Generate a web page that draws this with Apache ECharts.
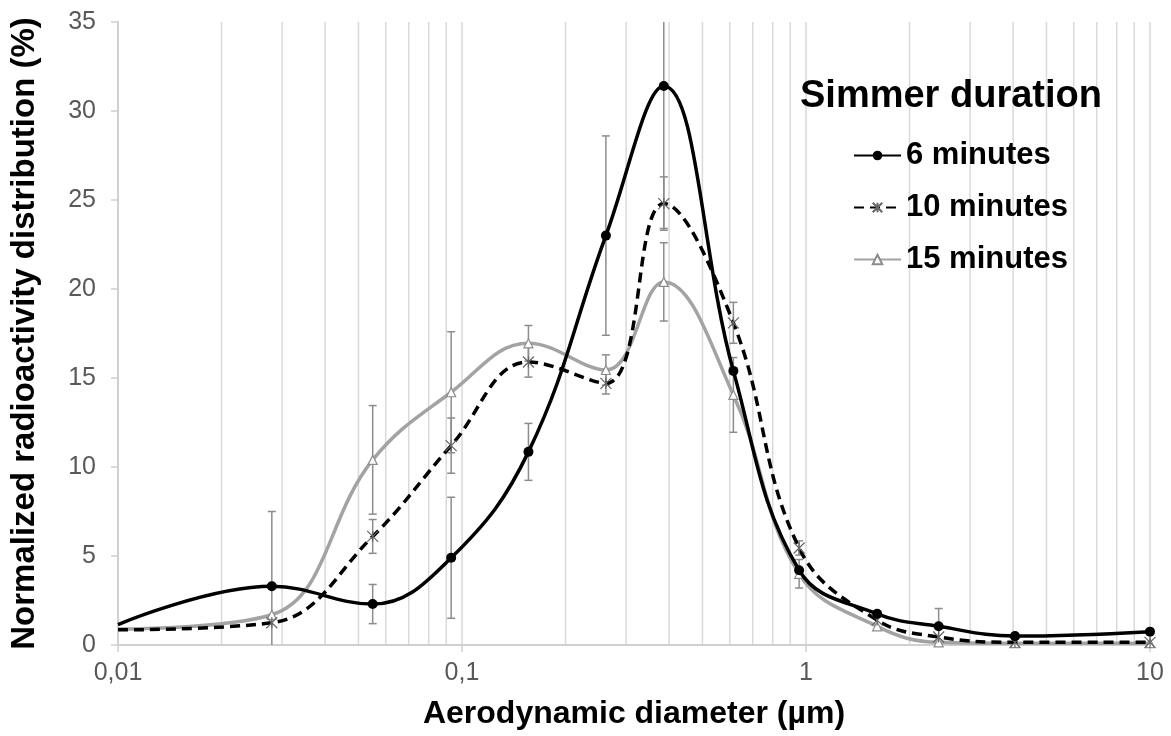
<!DOCTYPE html>
<html><head><meta charset="utf-8">
<script src="https://cdn.jsdelivr.net/npm/echarts@6/dist/echarts.min.js"></script>
<style>html,body{margin:0;padding:0;background:#fff}#c{width:1171px;height:736px}</style>
</head><body><div id="c"></div>
<script>
// Aerodynamic diameter (µm) of each stage
const diameters = [0.01, 0.028, 0.055, 0.093, 0.156, 0.262, 0.386, 0.615, 0.955, 1.61, 2.43, 4.05, 10];
// Normalized radioactivity distribution (%)
const sixMinutes     = [1.15, 3.3, 2.3, 4.9, 10.85, 23.0, 31.4, 15.4, 4.2, 1.75, 1.05, 0.5, 0.75];
const tenMinutes     = [0.85, 1.25, 6.1, 11.2, 15.9, 14.7, 24.8, 18.1, 5.45, 1.4, 0.45, 0.15, 0.15];
const fifteenMinutes = [0.9, 1.7, 10.4, 14.2, 16.95, 15.45, 20.4, 14.05, 4.0, 1.05, 0.15, 0.1, 0.1];
// error bar half widths
const sixMinutesErr     = [0, 4.2, 1.1, 3.4, 1.6, 5.6, 8.0, 0, 0, 0, 1.0, 0, 0];
const tenMinutesErr     = [0, 0, 0.95, 1.55, 0.85, 0.6, 1.5, 1.15, 0.4, 0, 0, 0, 0];
const fifteenMinutesErr = [0, 0, 3.05, 3.4, 1.0, 0.85, 2.2, 2.1, 0.8, 0, 0, 0, 0];
const seriesNames = ['6 minutes', '10 minutes', '15 minutes'];
const gridLineValues = [0.02,0.03,0.04,0.05,0.06,0.07,0.08,0.09,0.1,0.2,0.3,0.4,0.5,0.6,0.7,0.8,0.9,1,2,3,4,5,6,7,8,9,10];
const xTickLabels = {'0.01':'0,01','0.1':'0,1','1':'1','10':'10'};

const FONT = 'Liberation Sans, Arial, sans-serif';
const chart = echarts.init(document.getElementById('c'));

function lineData(vals) {
  return diameters.map((d, i) => i === 0 ? {value: [d, vals[i]], symbol: 'none'} : [d, vals[i]]);
}
function errData(vals, errs) {
  const out = [];
  diameters.forEach((d, i) => { if (errs[i] > 0) out.push([d, vals[i] - errs[i], vals[i] + errs[i]]); });
  return out;
}
function errSeries(vals, errs) {
  return {
    type: 'custom', z: 1, silent: true, data: errData(vals, errs),
    encode: {x: 0, y: [1, 2]},
    renderItem: function (params, api) {
      const cs = params.coordSys;
      const x = api.value(0);
      const lo = api.coord([x, api.value(1)]);
      const hi = api.coord([x, api.value(2)]);
      const top = cs.y, bot = cs.y + cs.height;
      const y1 = Math.max(hi[1], top), y2 = Math.min(lo[1], bot);
      const st = {stroke: '#8c8c8c', lineWidth: 1.5};
      const ch = [{type: 'line', shape: {x1: lo[0], y1: y1, x2: lo[0], y2: y2}, style: st}];
      if (hi[1] >= top) ch.push({type: 'line', shape: {x1: lo[0] - 4, y1: hi[1], x2: lo[0] + 4, y2: hi[1]}, style: st});
      if (lo[1] <= bot) ch.push({type: 'line', shape: {x1: lo[0] - 4, y1: lo[1], x2: lo[0] + 4, y2: lo[1]}, style: st});
      return {type: 'group', children: ch};
    }
  };
}

const option = {
  animation: false,
  backgroundColor: '#fff',
  grid: {left: 114, right: 21, top: 22, bottom: 91},
  title: {
    text: 'Simmer duration', left: 795, top: 72,
    textStyle: {fontFamily: FONT, fontSize: 38, fontWeight: 'bold', color: '#000', lineHeight: 40}
  },
  legend: {
    orient: 'vertical', left: 848, top: 134, itemWidth: 47, itemHeight: 12, itemGap: 19,
    data: seriesNames,
    textStyle: {fontFamily: FONT, fontSize: 31, fontWeight: 'bold', color: '#000', lineHeight: 33}
  },
  xAxis: {
    type: 'log', logBase: 10, min: 0.01, max: 10,
    name: 'Aerodynamic diameter (µm)', nameLocation: 'middle', nameGap: 53,
    nameTextStyle: {fontFamily: FONT, fontSize: 32, fontWeight: 'bold', color: '#000'},
    axisLine: {show: true, lineStyle: {color: '#d0d0d0', width: 2}},
    axisTick: {show: true, length: 7, lineStyle: {color: '#d0d0d0', width: 1.5}},
    splitLine: {show: false},
    axisLabel: {
      fontFamily: FONT, fontSize: 25, color: '#595959', margin: 16,
      formatter: v => xTickLabels[String(Number(v.toPrecision(6)))] || String(v).replace('.', ',')
    }
  },
  yAxis: {
    type: 'value', min: 0, max: 35, interval: 5,
    name: 'Normalized radioactivity distribution (%)', nameLocation: 'middle', nameGap: 77,
    nameTextStyle: {fontFamily: FONT, fontSize: 33, fontWeight: 'bold', color: '#000'},
    axisLine: {show: true, lineStyle: {color: '#d0d0d0', width: 2}},
    axisTick: {show: true, length: 7, lineStyle: {color: '#d0d0d0', width: 1.5}},
    splitLine: {show: false},
    axisLabel: {fontFamily: FONT, fontSize: 25, color: '#595959', margin: 22}
  },
  series: [
    {
      type: 'custom', z: 0, silent: true, data: gridLineValues.map(v => [v]),
      encode: {x: 0},
      renderItem: function (params, api) {
        const cs = params.coordSys;
        const p = api.coord([api.value(0), 0]);
        return {type: 'line', shape: {x1: p[0], y1: cs.y, x2: p[0], y2: cs.y + cs.height},
          style: {stroke: '#d9d9d9', lineWidth: 1.5}};
      }
    },
    errSeries(sixMinutes, sixMinutesErr),
    errSeries(tenMinutes, tenMinutesErr),
    errSeries(fifteenMinutes, fifteenMinutesErr),
    {
      name: seriesNames[2], type: 'line', z: 3, smooth: 0.4, data: lineData(fifteenMinutes),
      symbol: 'triangle', symbolSize: 9, showAllSymbol: true,
      lineStyle: {color: '#a3a3a3', width: 3.5},
      itemStyle: {color: '#fff', borderColor: '#8c8c8c', borderWidth: 1.2}
    },
    {
      name: seriesNames[1], type: 'line', z: 4, smooth: 0.4, data: lineData(tenMinutes),
      symbol: 'path://M0,0L10,10M10,0L0,10M5,0L5,10', symbolSize: 11, showAllSymbol: true,
      lineStyle: {color: '#000', width: 3.5, type: [10, 6]},
      itemStyle: {color: 'none', borderColor: '#666', borderWidth: 1.2}
    },
    {
      name: seriesNames[0], type: 'line', z: 5, smooth: 0.4, data: lineData(sixMinutes),
      symbol: 'circle', symbolSize: 10, showAllSymbol: true,
      lineStyle: {color: '#000', width: 3.5},
      itemStyle: {color: '#000'}
    }
  ]
};
chart.setOption(option);
</script>
</body></html>
